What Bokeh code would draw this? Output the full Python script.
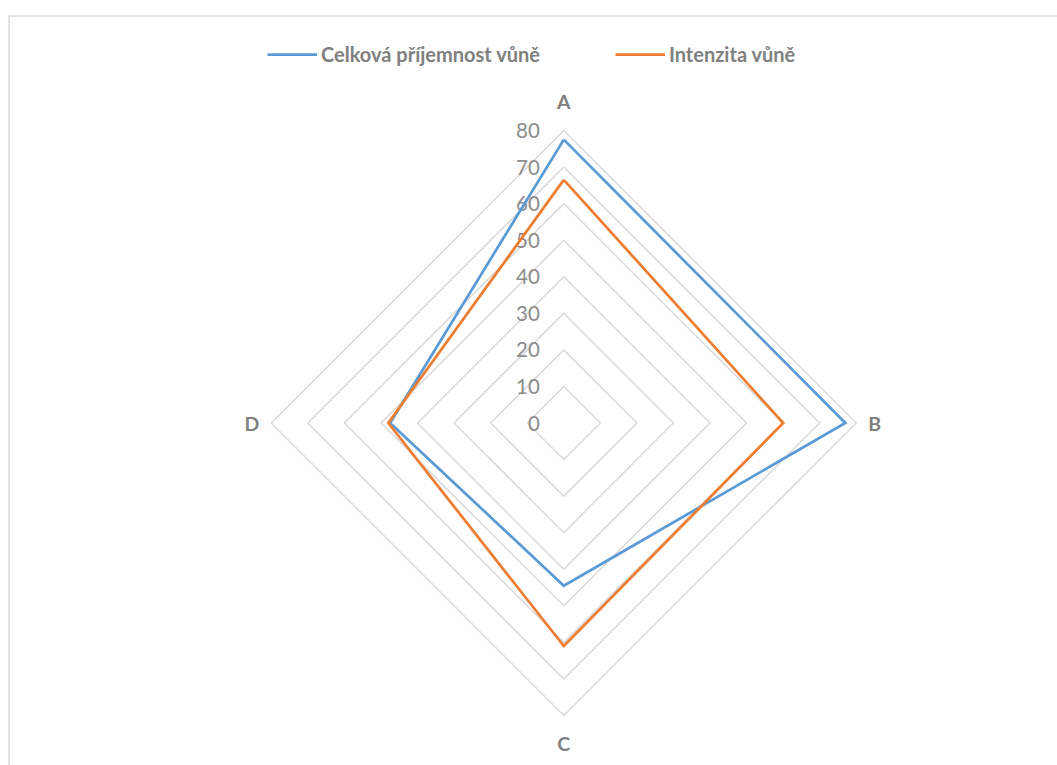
from bokeh.plotting import figure
from bokeh.models import Legend, LegendItem
from bokeh.core.properties import value
from bokeh.embed import file_html
from bokeh.resources import INLINE

categories = ["A", "B", "C", "D"]
series_names = ["Celková příjemnost vůně", "Intenzita vůně"]
pleasantness = [77.5, 77, 44.5, 47.5]
intensity = [66.5, 60, 61, 48]
ticks = [0, 10, 20, 30, 40, 50, 60, 70, 80]
r_max = 80
colors = ["#5B9BD5", "#ED7D31"]

W, H = 1057, 765
cx_px, cy_px = 563.3, 422.5
scale = 292.5 / r_max  # px per unit

p = figure(width=W, height=H, output_backend="svg", toolbar_location=None,
           x_range=(-cx_px / scale, (W - cx_px) / scale),
           y_range=(-(H - cy_px) / scale, cy_px / scale),
           min_border=0, outline_line_color=None, background_fill_color="white")
p.axis.visible = False
p.grid.visible = False

# directions: A top, B right, C bottom, D left
dirs = [(0, 1), (1, 0), (0, -1), (-1, 0)]

def poly(vals):
    xs = [v * d[0] for v, d in zip(vals, dirs)]
    ys = [v * d[1] for v, d in zip(vals, dirs)]
    return xs + xs[:1], ys + ys[:1]

# chart border (decoration)
bx0 = (8.5 - cx_px) / scale
by0 = (cy_px - 15.5) / scale
p.line([bx0, bx0, 200], [-200, by0, by0], line_color="#D9D9D9", line_width=1.5)

# grid diamonds
for t in ticks[1:]:
    gx, gy = poly([t] * 4)
    p.line(gx, gy, line_color="#D9D9D9", line_width=1.5)

# tick labels
p.text(x=[0] * len(ticks), y=ticks, text=[str(t) for t in ticks],
       x_offset=-24, text_align="right", text_baseline="middle",
       text_font=value("Lato"), text_font_size="20.5px", text_color="#8C8C8C")

# category labels
lab_x = [0, r_max, 0, -r_max]
lab_y = [r_max, 0, -r_max, 0]
p.text(x=lab_x, y=lab_y, text=categories,
       x_offset=[0, 12, 0, -12], y_offset=[-29, 0, 28, 0],
       text_align=["center", "left", "center", "right"], text_baseline="middle",
       text_font=value("Lato"), text_font_style="bold", text_font_size="19.5px",
       text_color="#808080")

renderers = []
for vals, c in zip([pleasantness, intensity], colors):
    xs, ys = poly(vals)
    r = p.line(xs, ys, line_color=c, line_width=2.75, line_join="miter")
    renderers.append(r)

legend = Legend(items=[LegendItem(label=n, renderers=[r]) for n, r in zip(series_names, renderers)],
                orientation="horizontal", location=(267, H - 66),
                glyph_width=50, glyph_height=22, label_standoff=4, spacing=75,
                padding=0, margin=0, border_line_color=None, background_fill_alpha=0,
                label_text_font="Lato", label_text_font_style="bold",
                label_text_font_size="20px", label_text_color="#808080")
p.add_layout(legend, "center")

open("out.html", "w").write(file_html(p, INLINE))
